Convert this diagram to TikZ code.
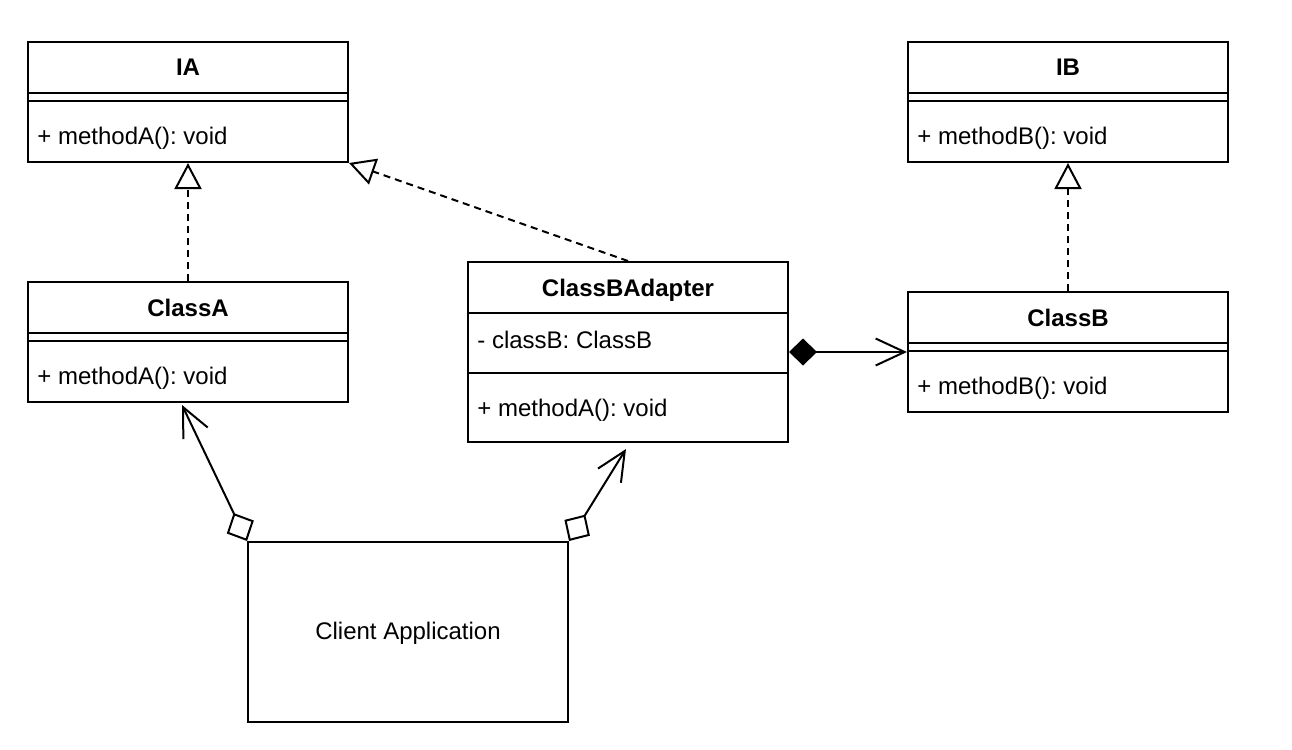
\documentclass[tikz,border=0pt]{standalone}
\usepackage{fontspec}
\setmainfont{Liberation Sans}
\usetikzlibrary{arrows.meta,calc}
\begin{document}
\frenchspacing
\begin{tikzpicture}[x=0.5pt,y=-0.5pt,
  umlbox/.style={draw, line width=1pt, inner sep=0pt, anchor=north west, minimum width=160pt},
  sepline/.style={line width=1pt},
  ttl/.style={font=\fontsize{12pt}{14pt}\selectfont\bfseries\frenchspacing, inner sep=0pt, anchor=mid},
  mem/.style={font=\fontsize{12pt}{14pt}\selectfont\frenchspacing, inner sep=0pt, anchor=mid west},
  realize/.style={line width=1pt, dash pattern=on 3.5pt off 2.5pt, -{Triangle[open,length=13pt,width=13.5pt]}},
  comp/.style={line width=1pt, {Diamond[length=14pt,width=13.5pt]}-{Straight Barb[length=14.5pt,width=13.5pt]}},
  aggr/.style={line width=1pt, {Diamond[open,length=15.5pt,width=15pt]}-{Straight Barb[length=14.5pt,width=13.5pt]}},
]
\useasboundingbox (0,0) rectangle (1292,750);

% IA
\node[umlbox, minimum height=60pt] (IA) at (27,41) {};
\draw[sepline] ($(IA.north west)+(0,52)$) -- ($(IA.north east)+(0,52)$);
\draw[sepline] ($(IA.north west)+(0,60)$) -- ($(IA.north east)+(0,60)$);
\node[ttl] (IAt) at ($(IA.north)+(0,29)$) {IA};
\node[mem] (IAm) at ($(IA.north west)+(10,98)$) {+ methodA(): void};

% IB
\node[umlbox, minimum height=60pt] (IB) at (907,41) {};
\draw[sepline] ($(IB.north west)+(0,52)$) -- ($(IB.north east)+(0,52)$);
\draw[sepline] ($(IB.north west)+(0,60)$) -- ($(IB.north east)+(0,60)$);
\node[ttl] (IBt) at ($(IB.north)+(0,29)$) {IB};
\node[mem] (IBm) at ($(IB.north west)+(10,98)$) {+ methodB(): void};

% ClassA
\node[umlbox, minimum height=60pt] (CA) at (27,281) {};
\draw[sepline] ($(CA.north west)+(0,52)$) -- ($(CA.north east)+(0,52)$);
\draw[sepline] ($(CA.north west)+(0,60)$) -- ($(CA.north east)+(0,60)$);
\node[ttl] (CAt) at ($(CA.north)+(0,30)$) {ClassA};
\node[mem] (CAm) at ($(CA.north west)+(10,98)$) {+ methodA(): void};

% ClassB
\node[umlbox, minimum height=60pt] (CB) at (907,291) {};
\draw[sepline] ($(CB.north west)+(0,52)$) -- ($(CB.north east)+(0,52)$);
\draw[sepline] ($(CB.north west)+(0,60)$) -- ($(CB.north east)+(0,60)$);
\node[ttl] (CBt) at ($(CB.north)+(0,30)$) {ClassB};
\node[mem] (CBm) at ($(CB.north west)+(10,98)$) {+ methodB(): void};

% ClassBAdapter
\node[umlbox, minimum height=90pt] (CBA) at (467,261) {};
\draw[sepline] ($(CBA.north west)+(0,52)$) -- ($(CBA.north east)+(0,52)$);
\draw[sepline] ($(CBA.north west)+(0,112)$) -- ($(CBA.north east)+(0,112)$);
\node[ttl] (CBAt) at ($(CBA.north)+(0,30)$) {ClassBAdapter};
\node[mem] (CBAa) at ($(CBA.north west)+(10,82)$) {- classB: ClassB};
\node[mem] (CBAm) at ($(CBA.north west)+(10,150)$) {+ methodA(): void};

% Client
\node[umlbox, minimum height=90pt] (CL) at (247,541) {};
\node[font=\fontsize{12pt}{14pt}\selectfont, inner sep=0pt, anchor=mid] (CLt) at ($(CL.center)+(0,2)$) {Client Application};

% connectors
\draw[realize] (CA.north) -- (IA.south);
\draw[realize] (CBA.north) -- (IA.south east);
\draw[realize] (CB.north) -- (IB.south);
\draw[comp] (CBA.east) -- (CB.west);
\coordinate (aTip) at ($(CA.south)+(-6,2)$);
\draw[aggr] (CL.north west) -- (aTip);
\coordinate (bTip) at ($(CBA.south)+(-2,6)$);
\draw[aggr] (CL.north east) -- (bTip);
\end{tikzpicture}
\end{document}
